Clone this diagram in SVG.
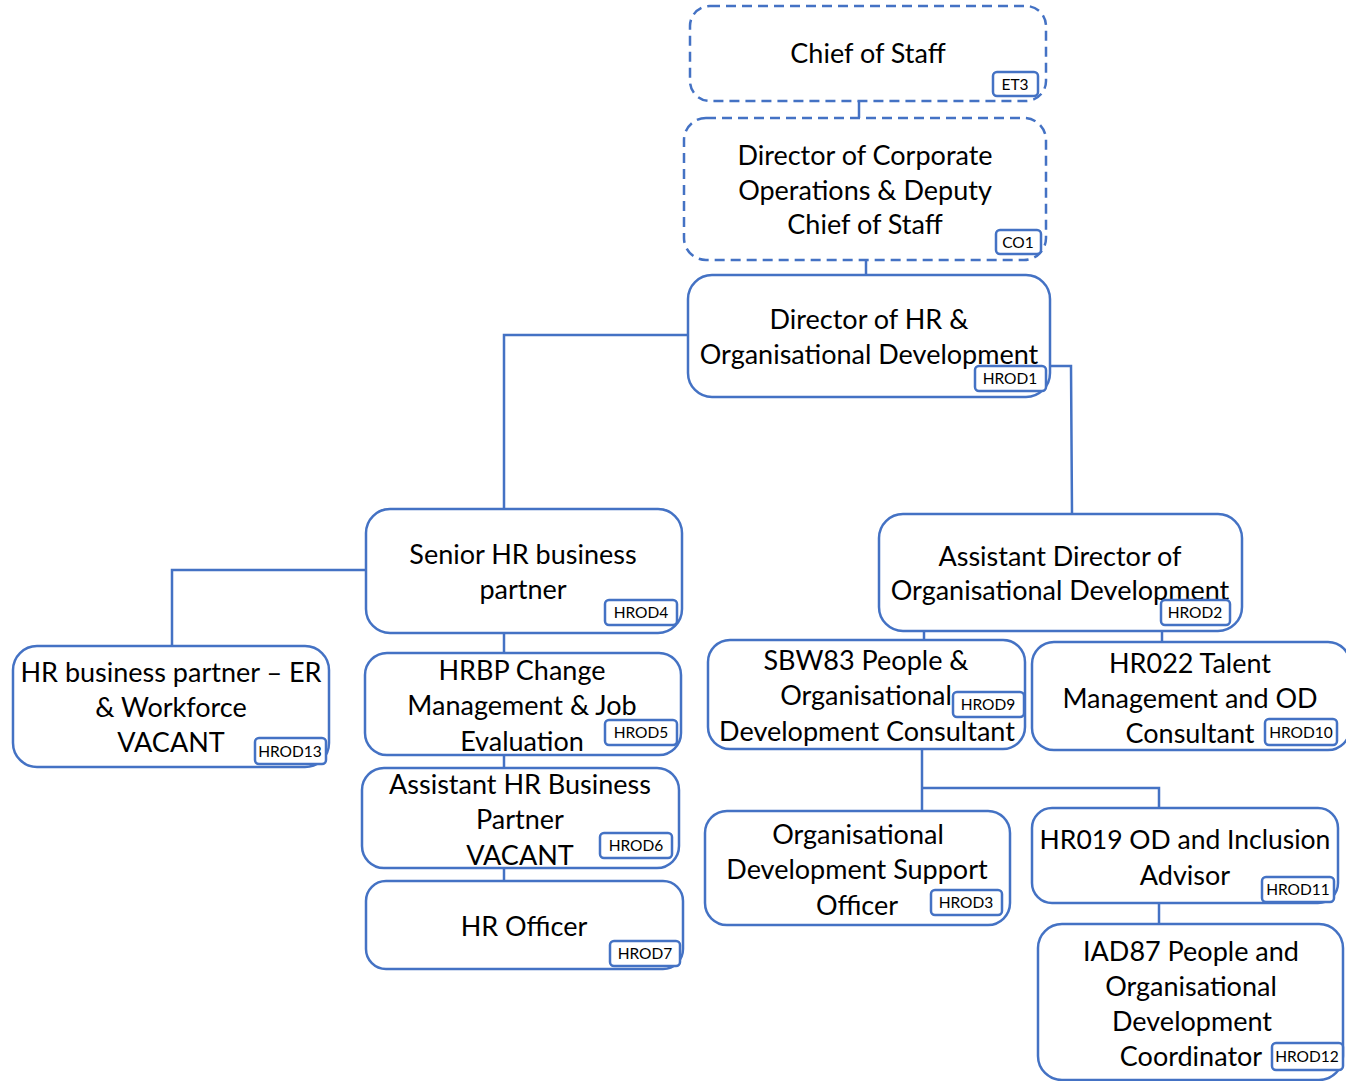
<svg xmlns="http://www.w3.org/2000/svg" width="1346" height="1081" viewBox="0 0 1346 1081">
<style>
.box{fill:#fff;stroke:#4472C4;stroke-width:2.5}
.dash{stroke-dasharray:10 6}
.badge{fill:#fff;stroke:#4472C4;stroke-width:2.5}
.t{font-family:Lato,"Liberation Sans",sans-serif;font-size:27px;fill:#000;text-anchor:middle}
.b{font-family:Lato,"Liberation Sans",sans-serif;font-size:15.5px;fill:#000;text-anchor:middle}
.c{fill:none;stroke:#4472C4;stroke-width:2.5}
</style>
<rect width="1346" height="1081" fill="#fff"/>
<g id="connectors">
<path class="c" d="M859 101 V118"/>
<path class="c" d="M866 260 V275"/>
<path class="c" d="M688 335 H504 V509"/>
<path class="c" d="M1044 366 H1071 L1072 514"/>
<path class="c" d="M366 570 H172 V646"/>
<path class="c" d="M504 633 V653"/>
<path class="c" d="M504 755 V768"/>
<path class="c" d="M504 868 V881"/>
<path class="c" d="M924 631 V640"/>
<path class="c" d="M1162 631 V642"/>
<path class="c" d="M922 749 V811"/>
<path class="c" d="M922 788 H1159 V808"/>
<path class="c" d="M1159 903 V924"/>
</g>
<g id="n-et3">
<rect class="box dash" x="690" y="6" width="356" height="95" rx="20"/>
<text class="t" x="868" y="63">Chief of Staff</text>
<rect class="badge" x="993" y="72" width="45" height="24" rx="4"/>
<text class="b" x="1015" y="90">ET3</text>
</g>
<g id="n-co1">
<rect class="box dash" x="684" y="118" width="362" height="142" rx="22"/>
<text class="t" x="865" y="165">Director of Corporate</text>
<text class="t" x="865" y="200">Operations &amp; Deputy</text>
<text class="t" x="865" y="234">Chief of Staff</text>
<rect class="badge" x="996" y="230" width="45" height="24" rx="4"/>
<text class="b" x="1018" y="248">CO1</text>
</g>
<g id="n-hrod1">
<rect class="box" x="688" y="275" width="362" height="122" rx="24"/>
<text class="t" x="869" y="329">Director of HR &amp;</text>
<text class="t" x="869" y="364">Organisational Development</text>
<rect class="badge" x="975" y="366" width="71" height="25" rx="4"/>
<text class="b" x="1010" y="384">HROD1</text>
</g>
<g id="n-hrod4">
<rect class="box" x="366" y="509" width="316" height="124" rx="24"/>
<text class="t" x="523" y="564">Senior HR business</text>
<text class="t" x="523" y="599">partner</text>
<rect class="badge" x="605" y="600" width="72" height="25" rx="4"/>
<text class="b" x="641" y="618">HROD4</text>
</g>
<g id="n-hrod13">
<rect class="box" x="13" y="646" width="316" height="121" rx="24"/>
<text class="t" x="171" y="682">HR business partner – ER</text>
<text class="t" x="171" y="717">&amp; Workforce</text>
<text class="t" x="171" y="752">VACANT</text>
<rect class="badge" x="255" y="738" width="71" height="26" rx="4"/>
<text class="b" x="290" y="757">HROD13</text>
</g>
<g id="n-hrod5">
<rect class="box" x="365" y="653" width="316" height="102" rx="22"/>
<text class="t" x="522" y="680">HRBP Change</text>
<text class="t" x="522" y="715">Management &amp; Job</text>
<text class="t" x="522" y="751">Evaluation</text>
<rect class="badge" x="605" y="720" width="72" height="25" rx="4"/>
<text class="b" x="641" y="738">HROD5</text>
</g>
<g id="n-hrod6">
<rect class="box" x="362" y="768" width="317" height="100" rx="22"/>
<text class="t" x="520" y="794">Assistant HR Business</text>
<text class="t" x="520" y="829">Partner</text>
<text class="t" x="520" y="865">VACANT</text>
<rect class="badge" x="600" y="833" width="72" height="25" rx="4"/>
<text class="b" x="636" y="851">HROD6</text>
</g>
<g id="n-hrod7">
<rect class="box" x="366" y="881" width="317" height="88" rx="20"/>
<text class="t" x="524" y="936">HR Officer</text>
<rect class="badge" x="610" y="941" width="70" height="25" rx="4"/>
<text class="b" x="645" y="959">HROD7</text>
</g>
<g id="n-hrod2">
<rect class="box" x="879" y="514" width="363" height="117" rx="24"/>
<text class="t" x="1060" y="566">Assistant Director of</text>
<text class="t" x="1060" y="600">Organisational Development</text>
<rect class="badge" x="1161" y="600" width="69" height="25" rx="4"/>
<text class="b" x="1195" y="618">HROD2</text>
</g>
<g id="n-hrod9">
<rect class="box" x="708" y="640" width="317" height="109" rx="22"/>
<text class="t" x="866" y="670">SBW83 People &amp;</text>
<text class="t" x="866" y="705">Organisational</text>
<text class="t" x="867" y="741">Development Consultant</text>
<rect class="badge" x="953" y="692" width="71" height="25" rx="4"/>
<text class="b" x="988" y="710">HROD9</text>
</g>
<g id="n-hrod10">
<rect class="box" x="1032" y="642" width="318" height="108" rx="22"/>
<text class="t" x="1190" y="673">HR022 Talent</text>
<text class="t" x="1190" y="708">Management and OD</text>
<text class="t" x="1190" y="743">Consultant</text>
<rect class="badge" x="1265" y="719" width="72" height="26" rx="4"/>
<text class="b" x="1301" y="738">HROD10</text>
</g>
<g id="n-hrod3">
<rect class="box" x="705" y="811" width="305" height="114" rx="22"/>
<text class="t" x="858" y="844">Organisational</text>
<text class="t" x="857" y="879">Development Support</text>
<text class="t" x="857" y="915">Officer</text>
<rect class="badge" x="931" y="890" width="71" height="25" rx="4"/>
<text class="b" x="966" y="908">HROD3</text>
</g>
<g id="n-hrod11">
<rect class="box" x="1032" y="808" width="306" height="95" rx="20"/>
<text class="t" x="1185" y="849" style="font-size:26.5px">HR019 OD and Inclusion</text>
<text class="t" x="1185" y="885">Advisor</text>
<rect class="badge" x="1262" y="877" width="72" height="25" rx="4"/>
<text class="b" x="1298" y="895">HROD11</text>
</g>
<g id="n-hrod12">
<rect class="box" x="1038" y="924" width="305" height="156" rx="24"/>
<text class="t" x="1191" y="961">IAD87 People and</text>
<text class="t" x="1191" y="996">Organisational</text>
<text class="t" x="1192" y="1031">Development</text>
<text class="t" x="1191" y="1066">Coordinator</text>
<rect class="badge" x="1272" y="1043" width="71" height="27" rx="4"/>
<text class="b" x="1307" y="1062">HROD12</text>
</g>
</svg>
